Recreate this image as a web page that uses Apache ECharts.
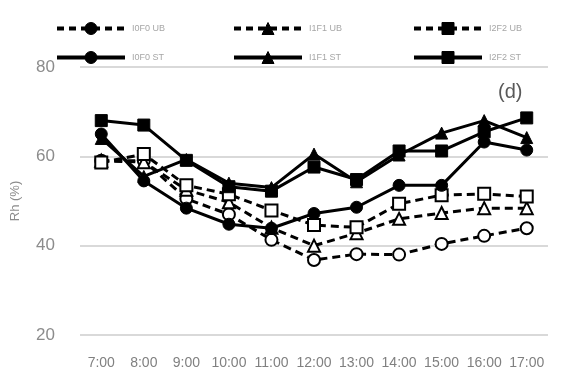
<!DOCTYPE html>
<html>
<head>
<meta charset="utf-8">
<script src="https://cdn.jsdelivr.net/npm/echarts@6/dist/echarts.min.js"></script>
<style>
  html, body { margin: 0; padding: 0; background: #fff; }
  #chart { width: 567px; height: 374px; }
</style>
</head>
<body>
<div id="chart"></div>
<script>
// Hourly relative humidity, 7:00 to 17:00
const hours = ['7:00', '8:00', '9:00', '10:00', '11:00', '12:00', '13:00', '14:00', '15:00', '16:00', '17:00'];
const yTicks = [20, 40, 60, 80];

const i0f0UB = [59.0, 59.0, 50.5, 47.0, 41.3, 36.8, 38.1, 38.0, 40.4, 42.2, 43.9];
const i1f1UB = [59.0, 58.7, 52.5, 49.7, 44.0, 40.0, 42.8, 46.0, 47.3, 48.4, 48.4];
const i2f2UB = [58.6, 60.5, 53.5, 51.5, 47.9, 44.6, 44.1, 49.4, 51.3, 51.6, 51.0];
const i0f0ST = [65.0, 54.5, 48.4, 44.8, 43.9, 47.2, 48.6, 53.5, 53.5, 63.2, 61.4];
const i1f1ST = [64.0, 55.5, 59.3, 54.0, 53.0, 60.5, 54.3, 60.3, 65.2, 68.0, 64.2];
const i2f2ST = [68.0, 67.0, 59.1, 53.2, 52.2, 57.6, 54.8, 61.2, 61.2, 65.5, 68.6];

const names = ['I0F0 UB', 'I1F1 UB', 'I2F2 UB', 'I0F0 ST', 'I1F1 ST', 'I2F2 ST'];
const values = [i0f0UB, i1f1UB, i2f2UB, i0f0ST, i1f1ST, i2f2ST];
const symbols = ['circle', 'triangle', 'rect', 'circle', 'triangle', 'rect'];

const series = names.map((name, i) => {
  const hollow = i < 3;
  return {
    name: name,
    type: 'line',
    data: values[i],
    symbol: symbols[i],
    symbolSize: 12,
    z: hollow ? 2 : 3,
    lineStyle: { color: '#000', width: 3, type: hollow ? [8, 5] : 'solid' },
    itemStyle: hollow
      ? { color: '#fff', borderColor: '#000', borderWidth: 2 }
      : { color: '#000', borderColor: '#000', borderWidth: 1 },
    emphasis: { disabled: true },
    animation: false
  };
});

const legendLeft = [55, 232, 412];
const legendTop = [22, 51];
const legends = names.map((name, i) => ({
  data: [name],
  left: legendLeft[i % 3],
  top: legendTop[Math.floor(i / 3)],
  padding: 0,
  itemWidth: 68,
  itemHeight: 15,
  itemGap: 0,
  selectedMode: false,
  lineStyle: { width: 4, type: i < 3 ? [7, 5] : 'solid' },
  itemStyle: { color: '#000', borderColor: '#000', borderWidth: 1 },
  textStyle: { fontFamily: 'Liberation Sans', fontSize: 9, color: '#a6a6a6', padding: [0, 0, 0, 2] }
}));

const chart = echarts.init(document.getElementById('chart'), null, { renderer: 'canvas' });
chart.setOption({
  animation: false,
  legend: legends,
  grid: { left: 80, right: 19, top: 67, bottom: 39 },
  xAxis: {
    type: 'category',
    data: hours,
    boundaryGap: true,
    axisLine: { show: false },
    axisTick: { show: false },
    axisLabel: { fontFamily: 'Liberation Sans', fontSize: 14, color: '#808080', margin: 21, interval: 0 }
  },
  yAxis: {
    type: 'value',
    min: yTicks[0],
    max: yTicks[yTicks.length - 1],
    interval: 20,
    name: 'Rh (%)',
    nameLocation: 'middle',
    nameGap: 58,
    nameTextStyle: { fontFamily: 'Liberation Sans', fontSize: 13, color: '#8c8c8c' },
    axisLine: { show: false },
    axisTick: { show: false },
    axisLabel: { fontFamily: 'Liberation Sans', fontSize: 17, color: '#8c8c8c', margin: 25 },
    splitLine: { lineStyle: { color: '#d9d9d9', width: 2 } }
  },
  graphic: [{
    type: 'text',
    left: 498,
    top: 82,
    style: { text: '(d)', fontFamily: 'Liberation Sans', fontSize: 20, fill: '#595959' }
  }],
  series: series
});
</script>
</body>
</html>
